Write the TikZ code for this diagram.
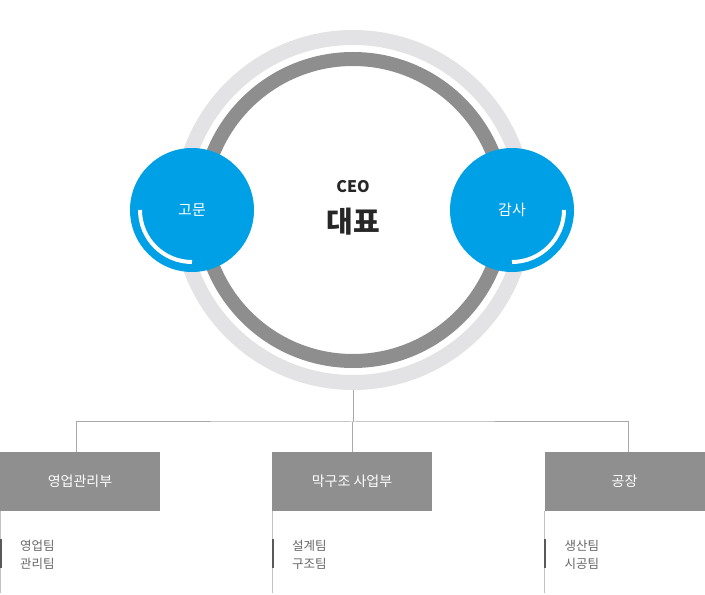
\documentclass[tikz,border=0pt]{standalone}
\usepackage{fontspec}
\setmainfont{Noto Sans CJK KR}
\definecolor{ringlight}{HTML}{E3E3E5}
\definecolor{ringdark}{HTML}{8E8E8E}
\definecolor{bluecirc}{HTML}{00A0E6}
\definecolor{deptgray}{HTML}{8F8F8F}
\definecolor{linegray}{HTML}{A8A8A8}
\definecolor{teamtext}{HTML}{666666}
\begin{document}
\begin{tikzpicture}[x=1pt, y=1pt,
    outerring/.style={draw=ringlight, line width=15pt, circle, minimum size=345pt, inner sep=0pt},
    innerring/.style={draw=ringdark, line width=14pt, circle, minimum size=302pt, inner sep=0pt},
    bluedot/.style={circle, fill=bluecirc, minimum size=124pt, inner sep=0pt, text=white, font=\fontsize{15}{18}\selectfont},
    dept/.style={fill=deptgray, minimum width=160pt, minimum height=59pt, inner sep=0pt, text=white, font=\fontsize{14}{17}\selectfont},
    team/.style={anchor=west, inner sep=0pt, align=left, text=teamtext, font=\fontsize{12.5}{18}\selectfont},
    conn/.style={draw=linegray, line width=1pt}]
    \useasboundingbox (0,0) rectangle (705,595);
    % rings
    \node[outerring] (ring) at (353,385) {};
    \node[innerring] (core) at (353,385) {};
    \node[font=\fontsize{16}{18}\selectfont, text=black!85] (ceo) at (353,408) {\textbf{CEO}};
    \node[font=\bfseries\fontsize{29}{32}\selectfont, text=black!85] (head) at (353,373) {대표};
    % side circles
    \node[bluedot] (adviser) at (192,385) {고문};
    \node[bluedot] (auditor) at (512,385) {감사};
    \draw[white, line width=4pt] (140,385) arc[start angle=180, end angle=270, radius=52];
    \draw[white, line width=4pt] (564,385) arc[start angle=0, end angle=-90, radius=52];
    % departments
    \node[dept] (sales) at (80,113.5) {영업관리부};
    \node[dept] (frame) at (352,113.5) {막구조 사업부};
    \node[dept] (plant) at (624.5,113.5) {공장};
    \coordinate (bus) at (353,173);
    \draw[conn] (ring.south) -- (bus);
    \draw[conn] ([xshift=-4pt]sales.north) |- (bus) -| ([xshift=4pt]plant.north);
    \draw[conn] (frame.north) -- (frame.north |- bus);
    % teams
    \foreach \d/\tx in {sales/{영업팀\\관리팀}, frame/{설계팀\\구조팀}, plant/{생산팀\\시공팀}} {
        \draw[draw=linegray!70, line width=0.8pt] ([xshift=0.5pt]\d.south west) -- ++(0,-82);
        \draw[draw=black!65, line width=2pt] ([xshift=1pt,yshift=-28pt]\d.south west) -- ++(0,-29);
        \node[team] (\d-teams) at ([xshift=20pt,yshift=-44pt]\d.south west) {\tx};
    }
\end{tikzpicture}
\end{document}
